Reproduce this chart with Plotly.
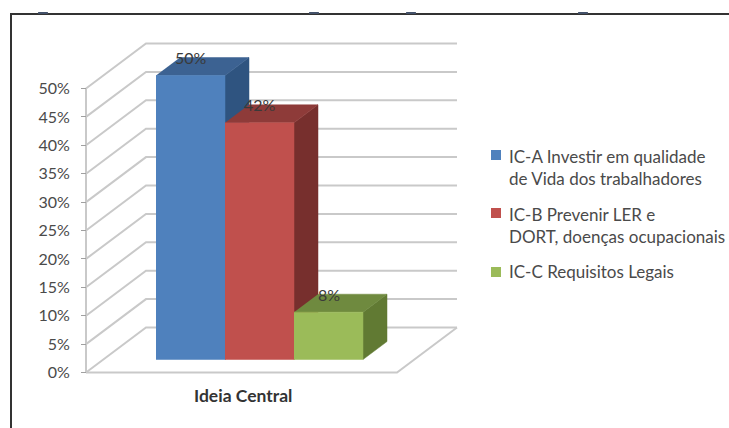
import plotly.graph_objects as go

# Data
categories = ["Ideia Central"]
series_names = ["IC-A Investir em qualidade de Vida dos trabalhadores",
                "IC-B Prevenir LER e DORT, doenças ocupacionais",
                "IC-C Requisitos Legais"]
series_values = [50.0, 41.67, 8.33]
legend_lines = [["IC-A Investir em qualidade", "de Vida dos trabalhadores"],
                ["IC-B Prevenir LER e", "DORT, doenças ocupacionais"],
                ["IC-C Requisitos Legais"]]
tick_values = [0, 5, 10, 15, 20, 25, 30, 35, 40, 45, 50]

# Style
front = ["#4F81BD", "#C0504D", "#9BBB59"]
top = ["#3C6292", "#8E3B39", "#6F8A3F"]
side = ["#2F5480", "#772F2D", "#617A33"]
GRID = "#C9C9C9"
TXT = "#4A4A4A"

W, H = 729, 428
Y0, PX = 372.5, 5.68        # pixel row of 0 %, pixels per percent
X_L, X_R = 86, 397          # floor front corners
DX, DY = 60, 45             # oblique depth of the chart box
BAR_X, BAR_W = 156, 69
D0, D1 = 13 / 45, 31 / 45   # bar depth as a fraction of the box


def proj(x, v, d):
    return x + DX * d, v + DY * d / PX


def py(row):
    return (Y0 - row) / PX


fig = go.Figure()


def poly(points, color, line=None, fill=True, name=None):
    xs, ys = zip(*points)
    fig.add_trace(go.Scatter(
        x=list(xs), y=list(ys), mode="lines", showlegend=False, hoverinfo="skip" if name is None else "name",
        name=name, fill="toself" if fill else None, fillcolor=color if fill else None,
        line=dict(color=line or color, width=2 if line else 0.5)))


# Gridlines and floor
for t in tick_values:
    poly([proj(X_L, t, 0), proj(X_L, t, 1), (X_R + DX, t + DY / PX)], GRID, line=GRID, fill=False)
poly([proj(X_L, 0, 0), proj(X_R, 0, 0), proj(X_R, 0, 1)], GRID, line=GRID, fill=False)
poly([proj(X_L, 0, 0), proj(X_L, tick_values[-1], 0)], GRID, line=GRID, fill=False)

# Bars: each one is its side, top and front face
for i, (name, v) in enumerate(zip(series_names, series_values)):
    bx0 = BAR_X + i * BAR_W - DX * D0
    bx1 = bx0 + BAR_W
    poly([proj(bx1, 0, D0), proj(bx1, 0, D1), proj(bx1, v, D1), proj(bx1, v, D0)], side[i])
    poly([proj(bx0, v, D0), proj(bx1, v, D0), proj(bx1, v, D1), proj(bx0, v, D1)], top[i])
    poly([proj(bx0, 0, D0), proj(bx1, 0, D0), proj(bx1, v, D0), proj(bx0, v, D0)], front[i], name=name)

# Data labels
for i, v in enumerate(series_values):
    fig.add_annotation(x=BAR_X + i * BAR_W + BAR_W / 2, y=v + DY * D1 / PX, text=f"{round(v)}%",
                       showarrow=False, font=dict(family="Lato", size=16, color="#3A3A3A"),
                       xanchor="center", yanchor="middle")

# Category label
fig.add_annotation(x=(BAR_X + BAR_X + 3 * BAR_W) / 2 - 17, y=py(395), text=f"<b>{categories[0]}</b>",
                   showarrow=False, font=dict(family="Lato", size=17.5, color="#333333"))

# Legend drawn as marks and text
rows = [[156, 178], [214, 236], [271]]
sw = [155, 213, 272]
for i, lines in enumerate(legend_lines):
    fig.add_trace(go.Scatter(x=[496], y=[py(sw[i])], mode="markers", showlegend=False, hoverinfo="skip",
                             marker=dict(symbol="square", size=10, color=front[i])))
    for r, t in zip(rows[i], lines):
        fig.add_annotation(x=507, y=py(r), text=t, showarrow=False, xanchor="left", yanchor="middle",
                           font=dict(family="Lato", size=17, color=TXT))

# Frame
frame = [(11, 428), (11, 14), (729, 14)]
fx, fy = zip(*frame)
fig.add_trace(go.Scatter(x=list(fx), y=[py(r) for r in fy], mode="lines", showlegend=False, hoverinfo="skip",
                         line=dict(color="#333333", width=2)))

# Clipped specks just above the frame
specks = [43, 314, 411, 583]
fig.add_trace(go.Scatter(x=specks, y=[py(13)] * len(specks), mode="markers", showlegend=False, hoverinfo="skip",
                         marker=dict(symbol="line-ew", size=7, line=dict(color="#44526A", width=2))))

fig.update_layout(
    width=W, height=H, margin=dict(l=0, r=0, t=0, b=0),
    paper_bgcolor="white", plot_bgcolor="white", showlegend=False,
    xaxis=dict(range=[0, W], visible=False, fixedrange=True),
    yaxis=dict(range=[py(H), py(0)], anchor="free", position=X_L / W, side="left",
               tickvals=tick_values, ticktext=[f"{t}%" for t in tick_values],
               ticks="outside", ticklen=5, tickcolor="#A0A0A0", showgrid=False, zeroline=False,
               showline=False, tickfont=dict(family="Lato", size=16, color=TXT), fixedrange=True,
               ticklabelstandoff=8),
)
fig.write_html("out.html", config=dict(displayModeBar=False),
               post_script="document.body.style.margin='0';document.body.style.overflow='hidden';")
